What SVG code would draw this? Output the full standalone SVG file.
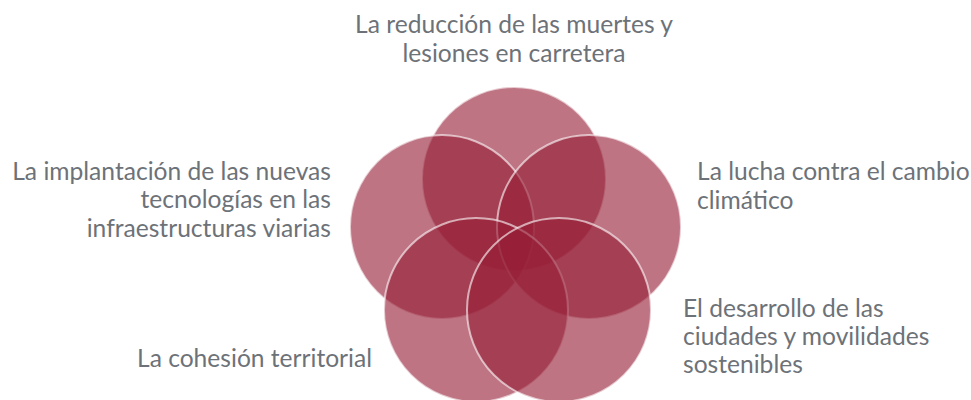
<svg xmlns="http://www.w3.org/2000/svg" width="971" height="400" viewBox="0 0 971 400">
<style>
.c{fill:#961E37;fill-opacity:0.62;stroke:#ffffff;stroke-opacity:0.6;stroke-width:2}
.t{font-family:Lato,"Liberation Sans",sans-serif;font-size:24.6px;fill:#6D7278}
</style>
<rect width="971" height="400" fill="#ffffff"/>
<g id="circle-top"><circle class="c" cx="514" cy="179" r="92"/></g>
<g id="circle-left"><circle class="c" cx="442" cy="227" r="92"/></g>
<g id="circle-right"><circle class="c" cx="589" cy="227" r="92"/></g>
<g id="circle-bottom-left"><circle class="c" cx="476" cy="310" r="92"/></g>
<g id="circle-bottom-right"><circle class="c" cx="559" cy="310" r="92"/></g>
<g id="label-top" class="t" text-anchor="middle">
<text x="514" y="33">La reducción de las muertes y</text>
<text x="514" y="62">lesiones en carretera</text>
</g>
<g id="label-left" class="t" text-anchor="end">
<text x="331" y="180">La implantación de las nuevas</text>
<text x="331" y="208">tecnologías en las</text>
<text x="331" y="237">infraestructuras viarias</text>
</g>
<g id="label-right" class="t">
<text x="697" y="180">La lucha contra el cambio</text>
<text x="697" y="209">climático</text>
</g>
<g id="label-bottom-right" class="t">
<text x="683" y="317">El desarrollo de las</text>
<text x="683" y="345">ciudades y movilidades</text>
<text x="683" y="373">sostenibles</text>
</g>
<g id="label-bottom-left" class="t">
<text x="137" y="367">La cohesión territorial</text>
</g>
</svg>
